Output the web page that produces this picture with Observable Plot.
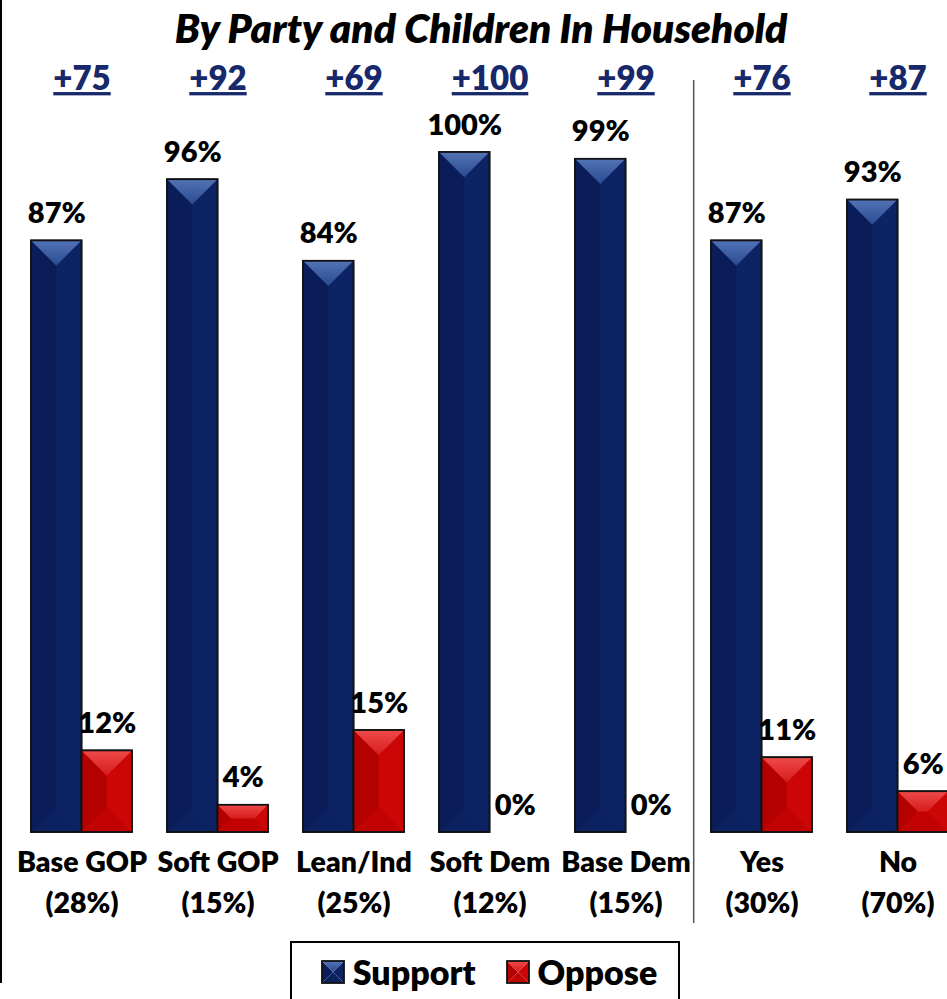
<!DOCTYPE html>
<html>
<head>
<meta charset="utf-8">
<script src="https://cdn.jsdelivr.net/npm/d3@7"></script>
<script src="https://cdn.jsdelivr.net/npm/@observablehq/plot@0.6"></script>
<style>
  body { margin: 0; background: #fff; font-family: Lato, "Open Sans", sans-serif; }
  #wrap { position: relative; width: 947px; height: 999px; overflow: hidden; background: #fff; }
  #edge { position: absolute; left: 0; top: 0; width: 2px; height: 983px; background: #000; }
  #title { position: absolute; top: 3px; left: 0; width: 962px; text-align: center;
           font: italic 800 40.5px Lato, sans-serif; color: #000; white-space: nowrap; }
  #chart { position: absolute; left: 0; top: 50px; }
  #legend { position: absolute; left: 290px; top: 941px; width: 390px; height: 90px;
            border: 2px solid #000; box-sizing: border-box; background: #fff; }
  #legend .items { position: absolute; top: 8px; left: 4px; width: 100%; display: flex;
                   justify-content: center; gap: 30px; font: 800 34px Lato, sans-serif; }
  #legend .item { display: flex; align-items: center; gap: 8px; }
  .net text { text-decoration: underline; text-decoration-thickness: 3px; text-underline-offset: 6px; }
</style>
</head>
<body>
<div id="wrap">
  <div id="edge"></div>
  <div id="title">By Party and Children In Household</div>
  <div id="chart"></div>
  <div id="legend"><div class="items" id="legendItems"></div></div>
</div>
<script>
// ---- data ----
const categories = ["Base GOP", "Soft GOP", "Lean/Ind", "Soft Dem", "Base Dem", "Yes", "No"];
const groupShares = ["(28%)", "(15%)", "(25%)", "(12%)", "(15%)", "(30%)", "(70%)"];
const support = [87, 96, 84, 100, 99, 87, 93];
const oppose = [12, 4, 15, 0, 0, 11, 6];
const netLabels = ["+75", "+92", "+69", "+100", "+99", "+76", "+87"];
const seriesNames = ["Support", "Oppose"];
const separatorBefore = ["Yes"];

// ---- styles ----
const palettes = {
  Support: {left: "#0a1d58", right: "#0d2363", bottom: "#0c2260", top0: "#5273b6", top1: "#2b4b91"},
  Oppose: {left: "#b40000", right: "#cc0606", bottom: "#c20303", top0: "#ef4a4a", top1: "#d61c1c"}
};

const rows = categories.map((c, i) => ({
  cat: c, share: groupShares[i], support: support[i], oppose: oppose[i], net: netLabels[i]
}));
const shareOf = new Map(rows.map(r => [r.cat, r.share]));

const W = 947, H = 885;
const barW = 50.5;

const chart = Plot.plot({
  width: W,
  height: H,
  marginTop: 102,
  marginBottom: 103,
  marginLeft: 0,
  marginRight: 0,
  style: {fontFamily: "Lato, sans-serif", background: "transparent", overflow: "visible"},
  x: {domain: categories, range: [-7, 985], padding: 0.26, axis: null},
  y: {domain: [0, 100], axis: null},
  marks: [
    Plot.barY(rows, {x: "cat", y: "support", fill: palettes.Support.right, stroke: "#111", strokeWidth: 1.5,
      insetRight: barW, className: "bars-Support"}),
    Plot.barY(rows.filter(r => r.oppose > 0), {x: "cat", y: "oppose", fill: palettes.Oppose.right, stroke: "#111", strokeWidth: 1.5,
      insetLeft: barW, className: "bars-Oppose"}),
    Plot.text(rows, {x: "cat", y: "support", text: d => d.support + "%", dx: -barW / 2, dy: -18, lineAnchor: "bottom",
      fontSize: 29, fontWeight: 800, fill: "#000"}),
    Plot.text(rows, {x: "cat", y: "oppose", text: d => d.oppose + "%", dx: barW / 2, dy: -18, lineAnchor: "bottom",
      fontSize: 29, fontWeight: 800, fill: "#000"}),
    Plot.text(rows, {x: "cat", text: "net", frameAnchor: "top", dy: -73, lineAnchor: "middle",
      fontSize: 33, fontWeight: 800, fill: "#17296b", className: "net"}),
    Plot.ruleX(separatorBefore, {x: d => d, dx: -68.3, stroke: "#555", strokeWidth: 1.5, insetTop: -72, insetBottom: -91}),
    Plot.axisX({tickSize: 0, tickPadding: 11, fontSize: 28.5, fontWeight: 800, lineHeight: 1.42,
      tickFormat: d => d + "\n" + shareOf.get(d), label: null, fill: "#000"})
  ]
});
document.getElementById("chart").appendChild(chart);

// ---- bevel shading applied to the rendered bars ----
const NS = "http://www.w3.org/2000/svg";
const defs = document.createElementNS(NS, "defs");
chart.insertBefore(defs, chart.firstChild);
for (const s of seriesNames) {
  const g = document.createElementNS(NS, "linearGradient");
  g.setAttribute("id", "top-" + s);
  g.setAttribute("x1", "0"); g.setAttribute("y1", "0"); g.setAttribute("x2", "0"); g.setAttribute("y2", "1");
  [[0, palettes[s].top0], [1, palettes[s].top1]].forEach(([o, c]) => {
    const st = document.createElementNS(NS, "stop");
    st.setAttribute("offset", o); st.setAttribute("stop-color", c);
    g.appendChild(st);
  });
  defs.appendChild(g);
}
function poly(parent, pts, fill) {
  const p = document.createElementNS(NS, "polygon");
  p.setAttribute("points", pts.map(q => q.join(",")).join(" "));
  p.setAttribute("fill", fill);
  p.setAttribute("stroke", "none");
  parent.appendChild(p);
}
function bevelRect(parent, x, y, w, h, s) {
  const pal = palettes[s];
  const b = Math.min(w, h) / 2;
  poly(parent, [[x, y], [x + b, y + b], [x + b, y + h - b], [x, y + h]], pal.left);
  poly(parent, [[x + w, y], [x + w - b, y + b], [x + w - b, y + h - b], [x + w, y + h]], pal.right);
  poly(parent, [[x, y + h], [x + w, y + h], [x + w - b, y + h - b], [x + b, y + h - b]], pal.bottom);
  poly(parent, [[x, y], [x + w, y], [x + w - b, y + b], [x + b, y + b]], `url(#top-${s})`);
  const o = document.createElementNS(NS, "rect");
  o.setAttribute("x", x); o.setAttribute("y", y); o.setAttribute("width", w); o.setAttribute("height", h);
  o.setAttribute("fill", "none"); o.setAttribute("stroke", "#111"); o.setAttribute("stroke-width", 1.8);
  parent.appendChild(o);
}
for (const s of seriesNames) {
  chart.querySelectorAll(`.bars-${s} rect`).forEach(r => {
    const x = +r.getAttribute("x"), y = +r.getAttribute("y");
    const w = +r.getAttribute("width"), h = +r.getAttribute("height");
    if (!(h > 0)) return;
    const g = document.createElementNS(NS, "g");
    const t = r.getAttribute("transform");
    if (t) g.setAttribute("transform", t);
    r.parentNode.insertBefore(g, r.nextSibling);
    bevelRect(g, x, y, w, h, s);
  });
}

// ---- legend ----
const items = document.getElementById("legendItems");
for (const s of seriesNames) {
  const it = document.createElement("div");
  it.className = "item";
  const sw = document.createElementNS(NS, "svg");
  sw.setAttribute("width", 24); sw.setAttribute("height", 24);
  sw.appendChild(defs.cloneNode(true));
  const g = document.createElementNS(NS, "g");
  sw.appendChild(g);
  bevelRect(g, 1, 1, 22, 22, s);
  const lab = document.createElement("span");
  lab.textContent = s;
  it.appendChild(sw); it.appendChild(lab);
  items.appendChild(it);
}
</script>
</body>
</html>
